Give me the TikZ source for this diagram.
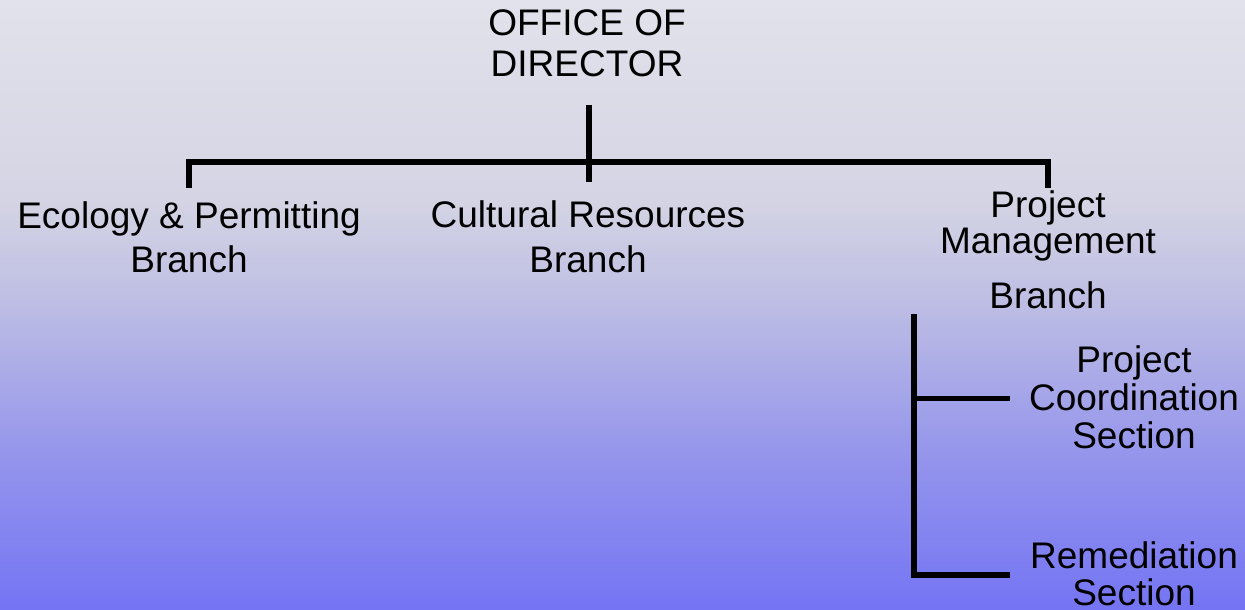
\documentclass[tikz,border=0pt]{standalone}
\usepackage{fontspec}
\setmainfont{Liberation Sans}
\definecolor{bgtop}{RGB}{226,226,236}
\definecolor{bgA}{RGB}{212,212,228}
\definecolor{bgB}{RGB}{190,190,228}
\definecolor{bgC}{RGB}{150,150,236}
\definecolor{bgbot}{RGB}{116,116,244}
\pgfdeclareverticalshading{bgshade}{100bp}{color(0bp)=(bgbot); color(25bp)=(bgbot); color(38.1bp)=(bgC); color(50.4bp)=(bgB); color(58.6bp)=(bgA); color(75bp)=(bgtop); color(100bp)=(bgtop)}
\begin{document}
\begin{tikzpicture}[x=1pt,y=-1pt,
  lbl/.style={align=center, font=\fontsize{37}{41}\selectfont, inner sep=0pt, anchor=base},
  conn/.style={line width=5.5pt, line join=miter, line cap=butt}]
\useasboundingbox (0,0) rectangle (1245,610);
\shade[shading=bgshade] (0,0) rectangle (1245,610);

\node[lbl] (dir) at (587,77) {OFFICE OF\\DIRECTOR};
\node[lbl, font=\fontsize{37}{44}\selectfont] (eco) at (189,272) {Ecology \& Permitting\\Branch};
\node[lbl, font=\fontsize{37}{45}\selectfont] (cult) at (588,272) {Cultural Resources\\Branch};
\node[lbl, font=\fontsize{37}{36}\selectfont] (pm) at (1048,308) {Project\\Management\\[19pt]Branch};
\node[lbl, font=\fontsize{37}{38}\selectfont] (pc) at (1134,448) {Project\\Coordination\\Section};
\node[lbl, font=\fontsize{37}{37}\selectfont] (rem) at (1134,605) {Remediation\\Section};

\coordinate (dtop) at (589,105);
\coordinate (dbot) at (589,182);
\coordinate (hl) at (189,162);
\coordinate (hr) at (1048,162);
\coordinate (el) at (189,188);
\coordinate (er) at (1048,188);
\coordinate (vtop) at (914,314);
\coordinate (vbot) at (914,578);
\coordinate (pcj) at (914,398.5);
\coordinate (pce) at (1010,398.5);
\coordinate (remj) at (914,575);
\coordinate (reme) at (1010,575);

\draw[conn] (dtop) -- (dbot);
\draw[conn] (el) -- (hl) -- (hr) -- (er);
\draw[conn] (vtop) -- (vbot);
\draw[conn] (pcj) -- (pce);
\draw[conn] (remj) -- (reme);
\end{tikzpicture}
\end{document}
